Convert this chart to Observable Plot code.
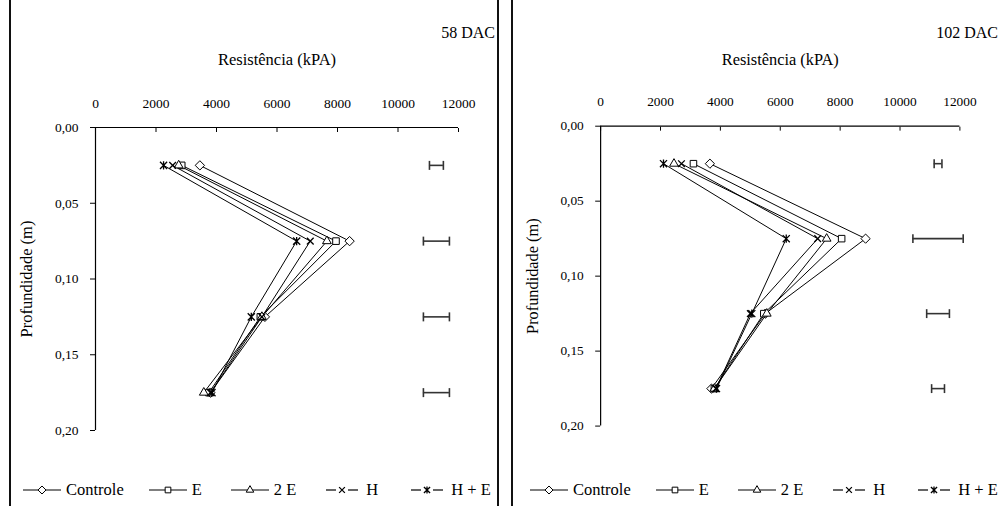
<!DOCTYPE html>
<html>
<head>
<meta charset="utf-8">
<script src="https://cdn.jsdelivr.net/npm/d3@7"></script>
<script src="https://cdn.jsdelivr.net/npm/@observablehq/plot@0.6"></script>
<style>
  body { margin: 0; background: #fff; font-family: "Liberation Serif", "Times New Roman", serif; }
  #wrap { position: relative; width: 999px; height: 506px; overflow: hidden; background: #fff; }
  .frame { position: absolute; top: -4px; height: 520px; border: 2px solid #111; box-sizing: border-box; pointer-events: none; }
  .plot { position: absolute; top: 0; }
  .dac { position: absolute; top: 24px; font-size: 16px; color: #000; white-space: nowrap; }
  .legend { position: absolute; top: 480px; display: flex; align-items: center; font-size: 16.5px; color: #000; white-space: nowrap; }
  .legend .item { display: flex; align-items: center; }
  .legend svg { display: block; margin-right: 5px; }
</style>
</head>
<body>
<div id="wrap">
  <div id="p1" class="plot" style="left:10px"></div>
  <div id="p2" class="plot" style="left:516px"></div>
  <div class="frame" style="left:9px;width:490px"></div>
  <div class="frame" style="left:511px;width:500px"></div>
  <div class="dac" style="right:504px">58 DAC</div>
  <div class="dac" style="right:1px">102 DAC</div>
  <div id="leg1" class="legend" style="left:23px"></div>
  <div id="leg2" class="legend" style="left:530px"></div>
</div>
<script>
// ---- data ----
const depths = [0.025, 0.075, 0.125, 0.175];
const seriesNames = ["Controle", "E", "2 E", "H", "H + E"];
const xTicks = [0, 2000, 4000, 6000, 8000, 10000, 12000];
const yTicks = [0, 0.05, 0.10, 0.15, 0.20];

// 58 DAC
const controle58 = [3450, 8400, 5600, 3800];
const e58        = [2850, 7950, 5450, 3750];
const e2x58      = [2750, 7650, 5500, 3580];
const h58        = [2550, 7100, 5500, 3800];
const he58       = [2250, 6650, 5150, 3850];
const errCenter58 = [11270, 11270, 11270, 11270];
const errHalf58   = [230, 430, 430, 430];

// 102 DAC
const controle102 = [3650, 8850, 5500, 3700];
const e102        = [3100, 8050, 5450, 3800];
const e2x102      = [2450, 7550, 5550, 3800];
const h102        = [2700, 7250, 5000, 3850];
const he102       = [2100, 6200, 5050, 3870];
const errCenter102 = [11270, 11270, 11270, 11270];
const errHalf102   = [130, 840, 380, 215];

const SERIF = "serif";

// x with a vertical stroke (Excel "star" marker)
const starSymbol = {
  draw(ctx, size) {
    const r = Math.sqrt(size / Math.PI) * 0.85;
    ctx.moveTo(-r, -r); ctx.lineTo(r, r);
    ctx.moveTo(-r, r); ctx.lineTo(r, -r);
    ctx.moveTo(0, -r * 1.15); ctx.lineTo(0, r * 1.15);
  }
};
const timesSymbol = {
  draw(ctx, size) {
    const r = Math.sqrt(size / Math.PI) * 0.8;
    ctx.moveTo(-r, -r); ctx.lineTo(r, r);
    ctx.moveTo(-r, r); ctx.lineTo(r, -r);
  }
};
const capSymbol = {
  draw(ctx, size) {
    const r = Math.sqrt(size / Math.PI);
    ctx.moveTo(0, -r);
    ctx.lineTo(0, r);
  }
};
const markerSymbols = [d3.symbolDiamond2, d3.symbolSquare2, d3.symbolTriangle2, timesSymbol, starSymbol];

function rowsFrom(seriesValues) {
  const rows = [];
  seriesValues.forEach((vals, i) => {
    vals.forEach((v, j) => rows.push({s: seriesNames[i], k: i, v, d: depths[j]}));
  });
  return rows;
}

function errRows(centers, halves) {
  return depths.map((d, i) => ({d, x1: centers[i] - halves[i], x2: centers[i] + halves[i]}));
}

const fmt = d => d.toFixed(2).replace(".", ",");

function makePlot(seriesValues, centers, halves) {
  const rows = rowsFrom(seriesValues);
  const errs = errRows(centers, halves);
  const caps = errs.flatMap(e => [{d: e.d, x: e.x1}, {d: e.d, x: e.x2}]);
  const dotMarks = markerSymbols.map((sym, i) =>
    Plot.dot(rows.filter(r => r.k === i), {
      x: "v", y: "d", symbol: sym, r: 4.2,
      fill: i < 3 ? "#fff" : "none", stroke: "#000", strokeWidth: i < 3 ? 1 : 1.3
    }));
  return Plot.plot({
    width: 488,
    height: 462,
    marginLeft: 85,
    marginRight: 40,
    marginTop: 127,
    marginBottom: 32,
    style: {fontFamily: SERIF, fontSize: "13.5px", color: "#000", background: "transparent", overflow: "visible"},
    x: {domain: [0, 12000]},
    y: {domain: [0, 0.2], reverse: true},
    marks: [
      Plot.axisX({anchor: "top", ticks: xTicks, tickSize: -4, tickPadding: 24, tickFormat: d => String(d),
        fontSize: 13.5, fontFamily: SERIF, label: null}),
      Plot.axisX({anchor: "top", ticks: [], tickSize: 0, label: "Resistência (kPA)", labelAnchor: "center",
        labelOffset: 74, labelArrow: "none", fontSize: 16.5, fontFamily: SERIF}),
      Plot.axisY({anchor: "left", ticks: yTicks, tickSize: 5, tickPadding: 12, tickFormat: fmt,
        fontSize: 13.5, fontFamily: SERIF, label: null}),
      Plot.axisY({anchor: "left", ticks: [], tickSize: 0, label: "Profundidade (m)", labelAnchor: "center",
        labelOffset: 75, labelArrow: "none", fontSize: 16.5, fontFamily: SERIF}),
      Plot.ruleY([0], {stroke: "#000", strokeWidth: 1.2}),
      Plot.ruleX([0], {stroke: "#000", strokeWidth: 1.2}),
      Plot.line(rows, {x: "v", y: "d", z: "s", stroke: "#000", strokeWidth: 1}),
      ...dotMarks,
      Plot.ruleY(errs, {y: "d", x1: "x1", x2: "x2", stroke: "#333", strokeWidth: 1.6}),
      Plot.dot(caps, {x: "x", y: "d", symbol: capSymbol, r: 4.5, stroke: "#333", strokeWidth: 1.6})
    ]
  });
}

document.getElementById("p1").append(
  makePlot([controle58, e58, e2x58, h58, he58], errCenter58, errHalf58));
document.getElementById("p2").append(
  makePlot([controle102, e102, e2x102, h102, he102], errCenter102, errHalf102));

function buildLegend(el) {
  const gaps = [25, 29, 27, 30, 0];
  seriesNames.forEach((name, i) => {
    const item = document.createElement("div");
    item.className = "item";
    item.style.marginRight = gaps[i] + "px";
    const w = 38, h = 14, cx = w / 2, cy = h / 2;
    const svg = d3.create("svg").attr("width", w).attr("height", h);
    if (i < 3) {
      svg.append("line").attr("x1", 0).attr("x2", w).attr("y1", cy).attr("y2", cy).attr("stroke", "#000").attr("stroke-width", 1.2);
    } else {
      svg.append("line").attr("x1", 3).attr("x2", cx - 6).attr("y1", cy).attr("y2", cy).attr("stroke", "#000").attr("stroke-width", 1.2);
      svg.append("line").attr("x1", cx + 6).attr("x2", w - 3).attr("y1", cy).attr("y2", cy).attr("stroke", "#000").attr("stroke-width", 1.2);
    }
    svg.append("path")
      .attr("transform", `translate(${cx},${cy})`)
      .attr("d", d3.symbol(markerSymbols[i], Math.PI * 13)())
      .attr("fill", i < 3 ? "#fff" : "none")
      .attr("stroke", "#000").attr("stroke-width", i < 3 ? 1 : 1.3);
    item.append(svg.node());
    const t = document.createElement("span");
    t.textContent = name;
    item.append(t);
    el.append(item);
  });
}
buildLegend(document.getElementById("leg1"));
buildLegend(document.getElementById("leg2"));
</script>
</body>
</html>
